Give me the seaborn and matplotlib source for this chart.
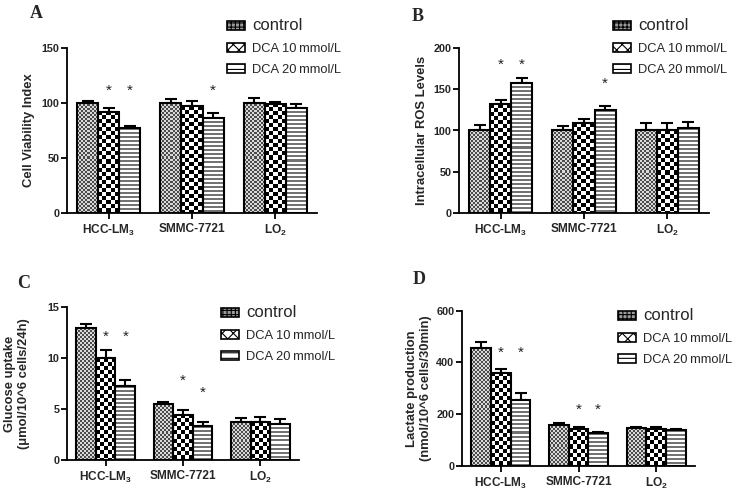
import numpy as np
import pandas as pd
import seaborn as sns
import matplotlib.pyplot as plt
from matplotlib.patches import Patch

# --- data (rows: control, DCA 10, DCA 20; cols: cell lines) ---
cells = ['HCC-LM$_3$', 'SMMC-7721', 'LO$_2$']
groups = ['control', 'DCA 10\u2009mmol/L', 'DCA 20\u2009mmol/L']

via_mean = [[100, 100, 100], [92, 97, 99.4], [77, 86.5, 95.8]]
via_err = [[1.8, 4, 4.2], [3.9, 5, 1.8], [2.2, 4.2, 3.2]]
via_stars = [(0, 1, 111), (0, 2, 111), (1, 2, 111)]

ros_mean = [[100.4, 100, 100], [131.6, 109, 100], [157.9, 124.7, 103]]
ros_err = [[6, 6, 9], [5, 5, 9], [6, 5, 7.5]]
ros_stars = [(0, 1, 180), (0, 2, 180), (1, 2, 157)]

glu_mean = [[12.9, 5.5, 3.73], [10.0, 4.45, 3.7], [7.25, 3.3, 3.56]]
glu_err = [[0.45, 0.2, 0.4], [0.8, 0.5, 0.5], [0.55, 0.45, 0.5]]
glu_stars = [(0, 1, 12.1), (0, 2, 12.1), (1, 1, 7.75), (1, 2, 6.6)]

lac_mean = [[456, 159, 146], [360, 143.6, 143.6], [256, 125.6, 138]]
lac_err = [[22, 6, 3], [14, 5, 5], [25, 5, 5]]
lac_stars = [(0, 1, 436), (0, 2, 436), (1, 1, 218), (1, 2, 218)]

sns.set_theme(style="ticks")
plt.rcParams['font.family'] = ['Liberation Sans', 'DejaVu Sans']
plt.rcParams['mathtext.fontset'] = 'custom'
plt.rcParams['mathtext.rm'] = 'Liberation Sans:bold'
plt.rcParams['mathtext.it'] = 'Liberation Sans:bold'
plt.rcParams['mathtext.bf'] = 'Liberation Sans:bold'
plt.rcParams['hatch.linewidth'] = 0.8

W, H = 738, 494
fig = plt.figure(figsize=(W / 100, H / 100), dpi=100)


def texture(kind, w, h):
    yy, xx = np.mgrid[0:h, 0:w]
    if kind == 0:   # fine grey checker
        return np.where((xx // 2 + yy // 2) % 2, 0.85, 0.3)
    if kind == 1:   # coarse black/white checker
        return np.where((xx // 4 + yy // 4) % 2, 1.0, 0.0)
    return np.where(yy % 4 < 2, 0.45, 1.0)   # horizontal stripes


def panel(box, mean, err, stars, ymax, yticks, ylabel, label_x, letter, letter_xy, leg_xy):
    l, t, r, b = box
    ax = fig.add_axes([l / W, 1 - b / H, (r - l) / W, (b - t) / H])
    df = pd.DataFrame([(cells[j], groups[i], mean[i][j])
                       for i in range(3) for j in range(3)],
                      columns=['cell', 'group', 'value'])
    sns.barplot(data=df, x='cell', y='value', hue='group', hue_order=groups,
                palette=['white'] * 3, saturation=1, width=0.76, errorbar=None,
                edgecolor='black', linewidth=1.5, legend=False, ax=ax)
    ax.set_xlim(-0.5, 2.5)
    ax.set_ylim(0, ymax)

    bars = list(ax.containers)
    bar_x = []
    for i, cont in enumerate(bars):
        xs = []
        for rect in cont:
            x0, w, h = rect.get_x(), rect.get_width(), rect.get_height()
            p0 = ax.transData.transform((x0, 0))
            p1 = ax.transData.transform((x0 + w, h))
            pw, ph = int(round(p1[0] - p0[0])), int(round(p1[1] - p0[1]))
            ax.imshow(texture(i, max(pw, 1), max(ph, 1)), extent=(x0, x0 + w, 0, h),
                      cmap='gray', vmin=0, vmax=1, interpolation='nearest',
                      aspect='auto', zorder=1.5, clip_path=rect)
            rect.set_facecolor('none')
            rect.set_zorder(2)
            xs.append(x0 + w / 2)
        bar_x.append(xs)
        ax.errorbar(xs, mean[i], yerr=[np.zeros(3), err[i]], fmt='none', ecolor='black',
                    elinewidth=1.5, capsize=4, capthick=1.5, zorder=1)
    for g, k, y in stars:
        ax.text(bar_x[k][g], y, '*', ha='center', va='center', fontsize=11, color='#222222')

    ax.set_xlim(-0.5, 2.5)
    ax.set_ylim(0, ymax)
    ax.set_yticks(yticks)
    ax.set_xlabel('')
    ax.set_ylabel(ylabel, fontsize=9.4, fontweight='bold')
    ax.yaxis.set_label_coords(label_x, 0.5)
    sns.despine(ax=ax)
    for s in ['left', 'bottom']:
        ax.spines[s].set_linewidth(1.3)
        ax.spines[s].set_color('black')
    ax.tick_params(axis='y', labelsize=7.8, width=1.3, length=4, pad=1.5, color='black')
    ax.tick_params(axis='x', labelsize=8.6, width=1.3, length=4, pad=3, color='black')
    for lab in ax.get_xticklabels() + ax.get_yticklabels():
        lab.set_fontweight('bold')

    handles = [Patch(facecolor='#9a9a9a', edgecolor='black', hatch='++++', lw=1.2),
               Patch(facecolor='white', edgecolor='black', hatch='xxx', lw=1.2),
               Patch(facecolor='white', edgecolor='black', hatch='---', lw=1.2)]
    leg = ax.legend(handles, groups, loc='upper left', frameon=False,
                    bbox_to_anchor=(leg_xy[0] / W, 1 - leg_xy[1] / H),
                    bbox_transform=fig.transFigure, fontsize=9.3,
                    handlelength=1.4, handleheight=0.7, handletextpad=0.55,
                    labelspacing=0.75, borderpad=0, borderaxespad=0)
    leg.get_texts()[0].set_fontsize(12)

    fig.text(letter_xy[0] / W, 1 - letter_xy[1] / H, letter, ha='left', va='top',
             family='Liberation Serif', fontweight='bold', fontsize=13)


panel((67, 48, 317, 213), via_mean, via_err, via_stars, 150, [0, 50, 100, 150],
      'Cell Viability Index', -0.128, 'A', (30, 5), (227, 18))
panel((459, 48, 709, 213), ros_mean, ros_err, ros_stars, 200, [0, 50, 100, 150, 200],
      'Intracellular ROS Levels', -0.124, 'B', (412, 8), (613, 18))
panel((67, 307, 299, 460), glu_mean, glu_err, glu_stars, 15, [0, 5, 10, 15],
      'Glucose uptake\n(\u03bcmol/10^6 cells/24h)', -0.16, 'C', (17, 275), (221, 305))
panel((462, 310.5, 695, 466), lac_mean, lac_err, lac_stars, 600, [0, 200, 400, 600],
      'Lactate production\n(nmol/10^6 cells/30min)', -0.129, 'D', (413, 271), (618, 308))

fig.savefig('out.png', dpi=100)
